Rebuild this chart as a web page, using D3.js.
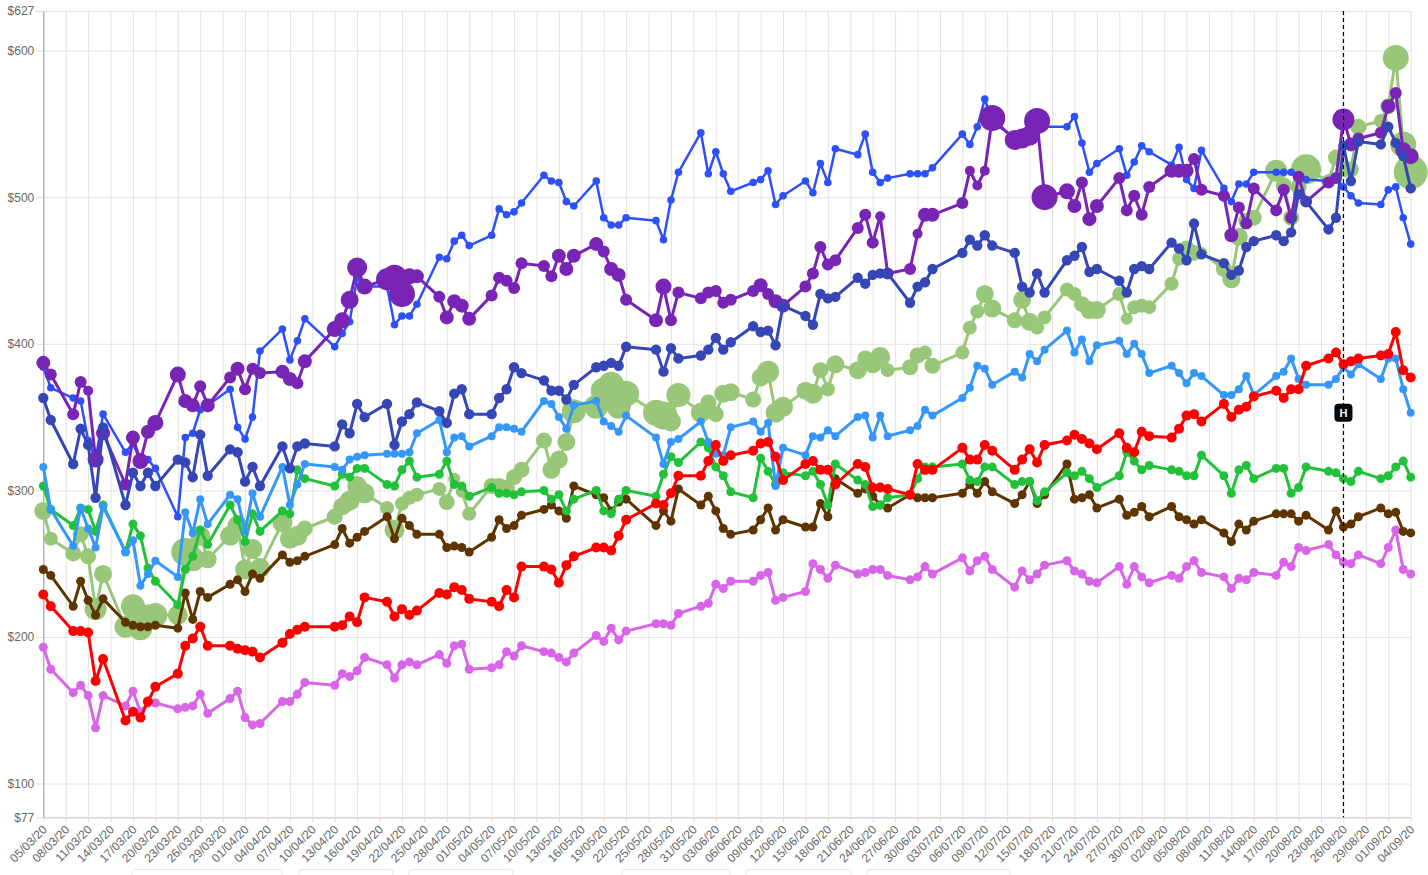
<!DOCTYPE html>
<html>
<head>
<meta charset="utf-8">
<script src="https://cdn.jsdelivr.net/npm/d3@7"></script>
<style>
  body { margin: 0; background: #fff; font-family: "Liberation Sans", Arial, sans-serif; }
  svg { display: block; }
</style>
</head>
<body>
<svg></svg>
<script>
const size = { w: 1428, h: 875 };
const plot = { l: 43.3, r: 1410.7, t: 11, b: 817.3 };

// trading days (weekdays minus market holidays)
const startDate = new Date(2020, 2, 5);
const endDate = new Date(2020, 8, 4);
const holidays = ["2020-04-10", "2020-05-25", "2020-07-03"];
const markerDate = new Date(2020, 7, 26);
const markerValue = 353;
const markerLabel = "H";

const yTicks = [77, 100, 200, 300, 400, 500, 600, 627];
const yDomain = [77, 627];

// values per trading day (Mar .. Sep)
const blueVals = [
  384,370,363,361,334,321,352,326,332,320,321,315,282,336,339,355,358,369,343,
  335,350,395,410,389,402,417,398,407,415,445,439,439,413,419,419,427,459,458,470,474,
  467,474,492,488,490,496,515,511,510,497,494,511,486,481,481,486,484,471,498,517,
  544,516,531,516,504,510,512,518,495,501,511,503,523,510,533,529,543,517,510,513,516,516,
  516,520,543,536,548,567,551,541,537,540,545,548,548,555,537,517,523,533,515,524,535,531,
  522,534,512,506,532,506,497,509,509,517,517,517,517,514,512,511,513,507,501,496,495,
  505,507,486,468
];
const purpleVals = [
  387,379,352,374,368,321,339,304,336,320,340,346,379,361,358,371,358,377,383,
  369,383,380,381,376,373,388,410,416,430,452,439,444,445,434,446,446,432,418,429,426,
  417,433,445,443,438,455,453,446,460,451,460,468,463,451,447,430,416,439,416,435,
  431,435,436,428,430,436,440,434,429,426,439,448,466,454,457,479,488,469,487,448,451,475,
  488,488,496,518,508,518,554,539,540,542,552,500,504,494,510,485,494,513,491,501,488,507,
  518,518,518,526,505,501,474,493,482,506,491,505,486,514,497,510,513,553,536,540,544,
  562,571,532,528
];
const purpleSizes = [
  7,6,6,6,5,8,7,6,7,8,7,8,8,7,7,6,7,6,7,
  6,6,6,7,7,6,7,8,8,9,10,8,11,13,13,8,7,6,7,7,7,
  7,6,6,6,6,6,6,6,7,7,7,7,6,7,7,6,7,8,6,6,
  6,6,6,6,6,6,7,6,7,7,6,6,6,6,6,6,6,6,5,6,6,5,
  7,7,6,5,5,5,13,10,10,10,13,13,8,7,6,7,7,6,6,6,6,6,
  7,7,7,6,6,6,7,6,6,6,6,6,6,6,6,6,6,11,7,6,6,
  7,6,8,8
];
const navyVals = [
  363,348,318,342,331,295,343,290,312,303,312,303,321,319,309,338,310,328,326,
  306,316,303,330,315,330,332,330,345,339,359,350,359,331,347,352,360,354,346,366,369,
  352,352,363,369,384,380,375,368,368,362,372,384,385,387,385,398,396,381,397,390,
  392,396,404,396,401,412,408,409,399,426,419,413,434,431,432,445,441,447,448,448,428,439,
  442,451,462,471,467,474,467,462,439,435,448,435,457,460,466,449,451,443,435,451,453,451,
  469,465,457,482,461,455,447,450,466,470,474,470,476,502,497,478,486,535,511,538,536,
  548,537,528,506
];
const skyVals = [
  316,287,262,288,274,261,289,258,266,235,243,252,241,285,271,294,277,297,294,
  272,298,282,316,290,304,318,316,314,321,323,324,325,325,325,326,339,348,326,336,337,
  330,337,343,343,342,340,361,359,350,342,358,361,347,344,340,351,336,318,333,335,
  347,333,325,324,343,347,340,346,303,329,324,337,336,341,337,350,351,336,351,337,341,344,
  355,351,363,370,385,383,372,381,377,393,388,396,409,394,403,388,399,402,393,400,393,380,
  385,380,373,380,378,365,365,369,378,365,378,381,390,376,372,372,376,384,379,386,376,
  390,390,369,353
];
const greenVals = [
  303,287,276,288,287,272,290,258,277,269,247,238,222,246,255,273,263,290,280,
  265,284,272,286,284,314,308,303,311,309,315,315,304,303,314,320,309,311,320,304,303,
  296,302,298,298,297,299,300,294,297,286,294,300,286,284,294,300,296,311,323,319,
  333,329,316,310,299,295,322,313,304,312,310,313,304,290,318,307,304,289,290,295,297,308,
  316,316,318,307,306,316,316,304,306,306,293,299,312,310,313,308,302,310,326,320,314,317,
  314,313,310,310,324,310,298,314,317,308,315,315,298,302,316,313,312,308,306,313,308,
  310,316,320,309
];
const lightGreenVals = [
  286,267,257,270,255,219,243,207,221,206,214,215,215,258,253,269,253,269,276,
  246,260,247,278,267,269,274,282,289,293,303,298,288,273,291,295,297,301,292,308,299,
  284,303,303,302,309,314,334,314,321,333,354,357,368,372,357,366,353,351,347,365,
  353,360,352,366,367,362,377,381,353,357,368,366,382,369,386,382,390,386,391,382,384,392,
  394,385,394,411,422,434,424,416,430,415,411,418,437,434,427,423,423,434,417,425,426,425,
  441,458,465,462,462,451,444,473,484,486,518,508,486,507,519,511,527,519,519,548,552,
  562,595,536,517
];
const lightGreenSizes = [
  9,7,8,8,8,11,9,11,12,12,12,12,10,14,12,10,9,10,10,
  10,10,10,10,10,10,8,8,9,10,10,10,7,10,7,7,7,7,8,6,6,
  7,8,8,8,8,8,8,9,9,9,12,12,13,13,12,13,13,14,10,12,
  10,8,8,9,9,8,9,11,10,10,9,10,8,7,9,9,8,9,10,7,8,8,
  7,8,7,7,7,9,9,8,9,9,7,7,7,7,8,9,9,7,6,7,7,7,
  7,7,8,8,6,8,9,9,8,8,11,8,8,8,15,7,8,8,8,8,7,
  8,13,13,17
];
const brownVals = [
  246,242,221,238,225,215,226,210,208,207,207,208,206,230,212,231,227,236,239,
  231,243,240,256,251,252,255,263,274,264,268,272,282,267,281,276,270,270,261,262,261,
  258,268,280,274,276,283,287,290,286,281,303,297,295,286,292,294,276,286,279,301,
  290,296,286,274,270,273,280,288,273,280,275,275,291,282,308,298,301,296,290,288,297,295,
  295,295,298,304,298,306,299,291,297,306,291,297,318,294,295,297,288,294,283,285,289,282,
  289,282,280,277,280,271,265,277,273,279,284,284,284,279,283,273,286,275,277,282,288,
  284,285,272,271
];
const redVals = [
  229,221,204,204,203,170,185,143,149,145,156,166,175,194,199,207,194,194,192,
  191,190,186,196,202,205,207,207,208,214,210,227,224,214,219,215,218,230,229,234,232,
  226,224,221,232,227,248,248,246,237,249,255,261,261,259,269,280,291,290,298,310,
  310,320,331,320,324,327,332,333,323,307,318,320,314,314,304,318,316,302,302,301,297,318,
  314,314,329,321,321,331,327,314,321,328,319,331,334,338,335,332,328,339,329,326,340,337,
  336,342,351,352,347,359,350,355,357,364,368,363,369,369,385,390,394,386,388,390,392,
  393,408,382,377
];
const pinkVals = [
  193,178,162,167,160,138,160,153,163,149,155,155,151,152,153,161,148,158,163,
  145,140,141,156,156,161,169,167,175,173,177,186,181,172,181,183,181,188,182,194,195,
  178,179,181,190,187,194,190,189,186,183,189,201,197,206,198,204,209,209,208,216,
  221,223,236,233,238,238,242,244,225,227,231,250,246,240,249,243,244,246,246,242,239,241,
  248,243,254,245,252,255,246,234,245,239,243,249,252,245,243,238,237,248,236,248,241,237,
  242,240,248,252,244,241,233,240,239,244,242,251,248,261,259,263,256,251,250,256,250,
  261,273,246,243
];

const fmtIso = d3.timeFormat("%Y-%m-%d");
const dates = d3.timeDay.range(startDate, d3.timeDay.offset(endDate, 1))
  .filter(d => d.getDay() > 0 && d.getDay() < 6 && !holidays.includes(fmtIso(d)));
const tickDates = d3.timeDay.range(startDate, d3.timeDay.offset(endDate, 1), 3);

// draw order: bottom first
const series = [
  { name: "lightgreen", values: lightGreenVals, sizes: lightGreenSizes, color: "#99c779", width: 3 },
  { name: "pink", values: pinkVals, color: "#d865e8", r: 4.5, width: 3 },
  { name: "brown", values: brownVals, color: "#5e3500", r: 4.5, width: 3 },
  { name: "green", values: greenVals, color: "#22c13a", r: 4.5, width: 3 },
  { name: "sky", values: skyVals, color: "#3597fb", r: 4, width: 3 },
  { name: "red", values: redVals, color: "#ff0000", r: 5, width: 3 },
  { name: "blue", values: blueVals, color: "#2c50fa", r: 3.8, width: 2.5 },
  { name: "purple", values: purpleVals, sizes: purpleSizes, color: "#7824b5", width: 3 },
  { name: "navy", values: navyVals, color: "#3547b6", r: 5.2, width: 3 },
];

const svg = d3.select("svg").attr("width", size.w).attr("height", size.h);

const x = d3.scaleTime().domain([startDate, endDate]).range([plot.l, plot.r]);
const y = d3.scaleLinear().domain(yDomain).range([plot.b, plot.t]);

// --------- GRID ----------
const gridG = svg.append("g").classed("grid", true);
gridG.append("g")
  .attr("transform", `translate(0,${plot.b})`)
  .call(d3.axisBottom(x).tickValues(tickDates).tickSize(-(plot.b - plot.t)).tickFormat(""))
  .call(g => g.select(".domain").remove())
  .selectAll("line").attr("stroke", "#e3e3e3");
gridG.append("g")
  .attr("transform", `translate(${plot.l},0)`)
  .call(d3.axisLeft(y).tickValues(yTicks).tickSize(-(plot.r - plot.l)).tickFormat(""))
  .call(g => g.select(".domain").remove())
  .selectAll("line").attr("stroke", "#e3e3e3");

// --------- AXES ----------
const xAxisG = svg.append("g")
  .attr("transform", `translate(0,${plot.b})`)
  .call(d3.axisBottom(x).tickValues(tickDates).tickSize(5).tickSizeOuter(0)
    .tickFormat(d3.timeFormat("%d/%m/%y")));
xAxisG.select(".domain").attr("stroke", "#cfcfcf");
xAxisG.selectAll("line").attr("stroke", "#dcdcdc");
xAxisG.selectAll("text")
  .attr("x", 0).attr("y", 0).attr("dy", "0.35em")
  .attr("transform", "translate(1,10) rotate(-45)")
  .style("text-anchor", "end")
  .attr("fill", "#666")
  .style("font-size", "12px")
  .style("font-family", "'Liberation Sans', Arial, sans-serif");

const yAxisG = svg.append("g")
  .attr("transform", `translate(${plot.l},0)`)
  .call(d3.axisLeft(y).tickValues(yTicks).tickSize(7).tickPadding(2).tickSizeOuter(0)
    .tickFormat(d => "$" + d));
yAxisG.select(".domain").attr("stroke", "#9a9a9a");
yAxisG.selectAll("line").attr("stroke", "#dcdcdc");
yAxisG.selectAll("text")
  .attr("fill", "#666")
  .style("font-size", "12px")
  .style("font-family", "'Liberation Sans', Arial, sans-serif");

// --------- LINES + DOTS ----------
const line = d3.line()
  .x((d, i) => x(dates[i]))
  .y(d => y(d));

const seriesG = svg.append("g").classed("series", true);
series.forEach(s => {
  const g = seriesG.append("g").classed(s.name, true);
  g.append("path")
    .datum(s.values)
    .attr("d", line)
    .attr("fill", "none")
    .attr("stroke", s.color)
    .attr("stroke-width", s.width)
    .attr("stroke-linejoin", "round");
  g.selectAll("circle")
    .data(s.values)
    .join("circle")
    .attr("cx", (d, i) => x(dates[i]))
    .attr("cy", d => y(d))
    .attr("r", (d, i) => s.sizes ? s.sizes[i] : s.r)
    .attr("fill", s.color);
});

// --------- MARKER ----------
const mx = x(markerDate);
svg.append("line")
  .attr("x1", mx).attr("x2", mx)
  .attr("y1", plot.t).attr("y2", plot.b)
  .attr("stroke", "#000")
  .attr("stroke-width", 1.2)
  .attr("stroke-dasharray", "4,3");
const my = y(markerValue);
svg.append("rect")
  .attr("x", mx - 9).attr("y", my - 9)
  .attr("width", 18).attr("height", 18)
  .attr("rx", 4)
  .attr("fill", "#000");
svg.append("text")
  .attr("x", mx).attr("y", my)
  .attr("dy", "0.36em")
  .attr("text-anchor", "middle")
  .attr("fill", "#fff")
  .style("font-size", "11px")
  .style("font-weight", "bold")
  .style("font-family", "'Liberation Sans', Arial, sans-serif")
  .text(markerLabel);

// cut-off controls under the chart
const boxes = [[132, 282], [299, 393], [409, 513], [622, 730], [746, 851], [867, 1010]];
svg.append("g").selectAll("rect")
  .data(boxes)
  .join("rect")
  .attr("x", d => d[0]).attr("y", 869.5)
  .attr("width", d => d[1] - d[0]).attr("height", 20)
  .attr("rx", 3)
  .attr("fill", "#fff")
  .attr("stroke", "#e6e6e6");
</script>
</body>
</html>
